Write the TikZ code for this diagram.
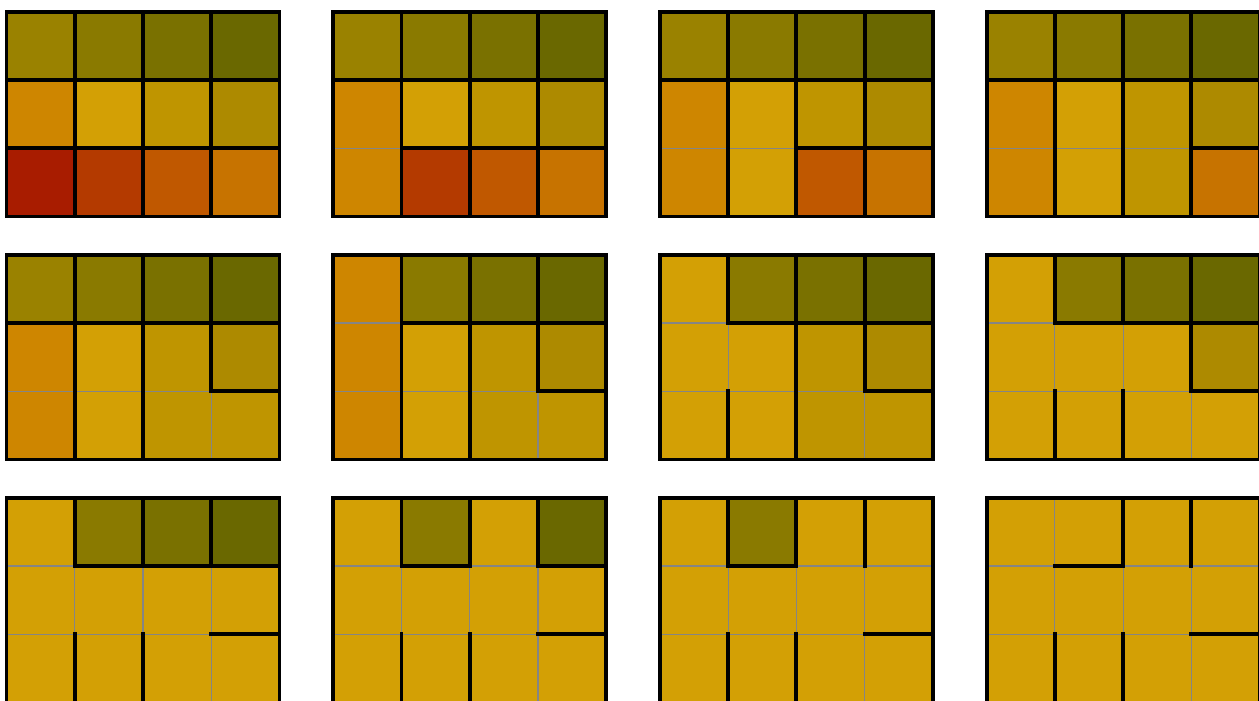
\documentclass[tikz,border=0pt]{standalone}
\definecolor{c00}{HTML}{9A8200}
\definecolor{c01}{HTML}{8A7A00}
\definecolor{c02}{HTML}{7A7100}
\definecolor{c03}{HTML}{6A6800}
\definecolor{c10}{HTML}{CE8600}
\definecolor{c11}{HTML}{D3A005}
\definecolor{c12}{HTML}{BF9500}
\definecolor{c13}{HTML}{AD8A00}
\definecolor{c20}{HTML}{A81C00}
\definecolor{c21}{HTML}{B43A00}
\definecolor{c22}{HTML}{C05800}
\definecolor{c23}{HTML}{C77300}
\definecolor{seam}{HTML}{858585}
\def\s{68.25}
\tikzset{
  wall/.style={draw=black, line width=3.9pt, line cap=rect},
  openwall/.style={draw=seam, line width=1.1pt},
  cellfill/.style={fill=#1}
}
% #1 panel id, #2 x, #3 y, #4 colours (row-major), #5 open edges
\newcommand\gridpanel[5]{%
  \begin{scope}[shift={(#2,#3)}]
    \foreach \col [count=\i from 0] in {#4} {
      \pgfmathtruncatemacro\rr{div(\i,4)}
      \pgfmathtruncatemacro\cc{mod(\i,4)}
      \fill[cellfill=\col] (\cc*\s,\rr*\s) rectangle ++(\s,\s);
    }
    \foreach \r in {1,2} \draw[openwall] (0,\r*\s) -- (4*\s,\r*\s);
    \foreach \c in {1,2,3} \draw[openwall] (\c*\s,0) -- (\c*\s,3*\s);
    \foreach \e in {#5} {\expandafter\gdef\csname open@#1@\e\endcsname{}}
    \foreach \r in {0,1} \foreach \c in {0,1,2,3} {
      \ifcsname open@#1@H\r\c\endcsname\else
        \draw[wall] (\c*\s,{(\r+1)*\s}) -- ++(\s,0);
      \fi
    }
    \foreach \r in {0,1,2} \foreach \c in {0,1,2} {
      \ifcsname open@#1@V\r\c\endcsname\else
        \draw[wall] ({(\c+1)*\s},\r*\s) -- ++(0,\s);
      \fi
    }
    \draw[wall] (0,0) rectangle (4*\s,3*\s);
  \end{scope}
}
\begin{document}
\begin{tikzpicture}[x=1pt,y=-1pt]
\useasboundingbox (0,0) rectangle (1259,701);
\clip (0,0) rectangle (1259,701);
\fill[white] (0,0) rectangle (1259,701);
% row 1
\gridpanel{1}{6.5}{11.7}{c00,c01,c02,c03,c10,c11,c12,c13,c20,c21,c22,c23}{X}
\gridpanel{2}{333.2}{11.7}{c00,c01,c02,c03,c10,c11,c12,c13,c10,c21,c22,c23}{H10}
\gridpanel{3}{659.9}{11.7}{c00,c01,c02,c03,c10,c11,c12,c13,c10,c11,c22,c23}{H10,H11}
\gridpanel{4}{986.6}{11.7}{c00,c01,c02,c03,c10,c11,c12,c13,c10,c11,c12,c23}{H10,H11,H12}
% row 2
\gridpanel{5}{6.5}{254.7}{c00,c01,c02,c03,c10,c11,c12,c13,c10,c11,c12,c12}{H10,H11,H12,V22}
\gridpanel{6}{333.2}{254.7}{c10,c01,c02,c03,c10,c11,c12,c13,c10,c11,c12,c12}{H10,H11,H12,V22,H00}
\gridpanel{7}{659.9}{254.7}{c11,c01,c02,c03,c11,c11,c12,c13,c11,c11,c12,c12}{H10,H11,H12,V22,H00,V10}
\gridpanel{8}{986.6}{254.7}{c11,c01,c02,c03,c11,c11,c11,c13,c11,c11,c11,c11}{H10,H11,H12,V22,H00,V10,V11}
% row 3
\gridpanel{9}{6.5}{497.7}{c11,c01,c02,c03,c11,c11,c11,c11,c11,c11,c11,c11}{H10,H11,H12,V22,H00,V10,V11,V12}
\gridpanel{10}{333.2}{497.7}{c11,c01,c11,c03,c11,c11,c11,c11,c11,c11,c11,c11}{H10,H11,H12,V22,H00,V10,V11,V12,H02}
\gridpanel{11}{659.9}{497.7}{c11,c01,c11,c11,c11,c11,c11,c11,c11,c11,c11,c11}{H10,H11,H12,V22,H00,V10,V11,V12,H02,H03}
\gridpanel{12}{986.6}{497.7}{c11,c11,c11,c11,c11,c11,c11,c11,c11,c11,c11,c11}{H10,H11,H12,V22,H00,V10,V11,V12,H02,H03,V00}
\end{tikzpicture}
\end{document}
